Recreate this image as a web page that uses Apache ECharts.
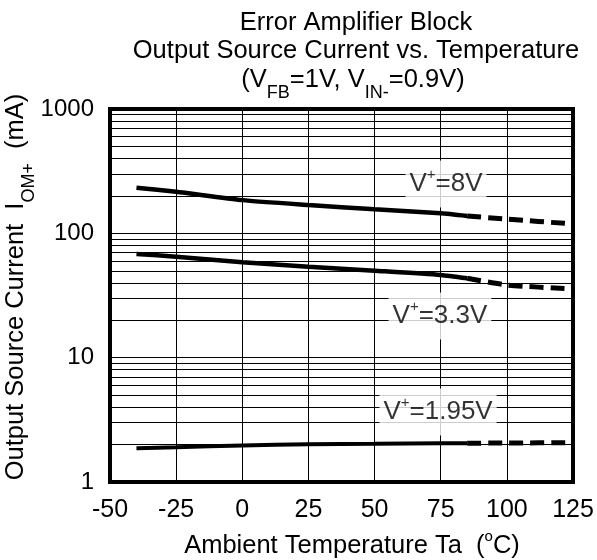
<!DOCTYPE html>
<html><head><meta charset="utf-8">
<script src="https://cdn.jsdelivr.net/npm/echarts@6/dist/echarts.min.js"></script>
<style>html,body{margin:0;padding:0;background:#fff}#c{width:597px;height:560px}</style>
</head><body><div id="c"></div>
<script>
const FONT = "'Liberation Sans', Arial, sans-serif";

// temperatures (°C)
const tempsSolid = [-40, -25, 0, 25, 50, 75, 85];
const tempsDashed = [85, 100, 125];

// output source current (mA)
const v8Solid = [233, 216, 185, 169, 156, 145, 138];
const v8Dashed = [138, 130, 119];
const v33Solid = [68.2, 64.9, 58.5, 53.9, 50.1, 46.3, 43.5];
const v33Dashed = [43.5, 38.4, 35.7];
const v195Solid = [1.87, 1.90, 1.97, 2.01, 2.03, 2.05, 2.05];
const v195Dashed = [2.05, 2.06, 2.07];

// curve labels
const labelNames = ['8V', '3.3V', '1.95V'];
const labelTemps = [77, 74.7, 74];
const labelValues = [249, 21.6, 3.66];

// log minor gridlines
const minorGrid = [2,3,4,5,6,7,8,9,20,30,40,50,60,70,80,90,200,300,400,500,600,700,800,900];

const pair = (xs, ys) => xs.map((x, i) => [x, ys[i]]);

const solidStyle = { color: '#000', width: 4.5 };
const dashStyle = { color: '#000', width: 5, type: [14, 7] };

function lineSeries(xs, ys, style, extra) {
  return Object.assign({
    type: 'line', data: pair(xs, ys), showSymbol: false, symbol: 'none',
    lineStyle: style, smooth: 0.2, silent: true, z: 3, animation: false
  }, extra || {});
}

const chart = echarts.init(document.getElementById('c'), null, { renderer: 'canvas' });
chart.setOption({
  animation: false,
  backgroundColor: '#fff',
  textStyle: { fontFamily: FONT, color: '#000' },
  grid: { left: 110, right: 24, top: 109, bottom: 78, show: true, borderColor: '#000', borderWidth: 4, backgroundColor: 'transparent' },
  xAxis: {
    type: 'value', min: -50, max: 125, interval: 25,
    axisLine: { show: false }, axisTick: { show: false },
    axisLabel: { fontSize: 25, color: '#000', fontFamily: FONT, margin: 16, formatter: v => String(v) },
    splitLine: { show: true, lineStyle: { color: '#000', width: 1 } }
  },
  yAxis: {
    type: 'log', logBase: 10, min: 1, max: 1000,
    axisLine: { show: false }, axisTick: { show: false },
    axisLabel: { fontSize: 24, color: '#000', fontFamily: FONT, margin: 16, formatter: v => String(Math.round(v)) },
    splitLine: { show: true, lineStyle: { color: '#000', width: 1 } }
  },
  series: [
    lineSeries(tempsSolid, v8Solid, solidStyle, {
      markLine: {
        silent: true, symbol: 'none', animation: false,
        label: { show: false },
        lineStyle: { color: '#000', width: 1, type: 'solid' },
        data: minorGrid.map(v => ({ yAxis: v }))
      }
    }),
    lineSeries(tempsDashed, v8Dashed, dashStyle),
    lineSeries(tempsSolid, v33Solid, solidStyle),
    lineSeries(tempsDashed, v33Dashed, dashStyle),
    lineSeries(tempsSolid, v195Solid, { color: '#000', width: 4 }),
    lineSeries(tempsDashed, v195Dashed, dashStyle),
    {
      type: 'scatter', z: 10, silent: true, symbolSize: 0,
      data: labelNames.map((n, i) => ({ value: [labelTemps[i], labelValues[i]], name: n })),
      label: {
        show: true, position: 'inside', color: '#000',
        fontSize: 26, fontFamily: FONT,
        backgroundColor: '#fff', padding: [7, 4],
        formatter: p => 'V{sup|+}=' + p.name,
        rich: { sup: { fontSize: 15, fontFamily: FONT, color: '#000', padding: [0, 0, 18, 0] } }
      }
    }
  ],
  graphic: [
    { type: 'text', x: 356, y: 23, silent: true,
      style: { text: 'Error Amplifier Block', fontSize: 25.5, fontFamily: FONT, fill: '#000',
               align: 'center', verticalAlign: 'middle', textAlign: 'center', textVerticalAlign: 'middle' } },
    { type: 'text', x: 356, y: 51, silent: true,
      style: { text: 'Output Source Current vs. Temperature', fontSize: 25.5, fontFamily: FONT, fill: '#000',
               align: 'center', verticalAlign: 'middle', textAlign: 'center', textVerticalAlign: 'middle' } },
    { type: 'text', x: 353, y: 80, silent: true,
      style: { text: '(V{sub|FB}=1V, V{sub|IN-}=0.9V)', fontSize: 25.5, fontFamily: FONT, fill: '#000',
               align: 'center', verticalAlign: 'middle', textAlign: 'center', textVerticalAlign: 'middle',
               rich: { sub: { fontSize: 18, fontFamily: FONT, fill: '#000', padding: [26, 0, 0, 0] } } } },
    { type: 'text', x: 352, y: 546, silent: true,
      style: { text: 'Ambient Temperature Ta  ({sup|o}C)', fontSize: 25.5, fontFamily: FONT, fill: '#000',
               align: 'center', verticalAlign: 'middle', textAlign: 'center', textVerticalAlign: 'middle',
               rich: { sup: { fontSize: 15, fontFamily: FONT, fill: '#000', padding: [0, 0, 18, 0] } } } },
    { type: 'text', x: 16, y: 287, rotation: Math.PI / 2, silent: true,
      style: { text: 'Output Source Current  I{sub|OM+}  (mA)', fontSize: 25.5, fontFamily: FONT, fill: '#000',
               align: 'center', verticalAlign: 'middle', textAlign: 'center', textVerticalAlign: 'middle',
               rich: { sub: { fontSize: 18, fontFamily: FONT, fill: '#000', padding: [26, 0, 0, 0] } } } }
  ]
});
</script>
</body></html>
